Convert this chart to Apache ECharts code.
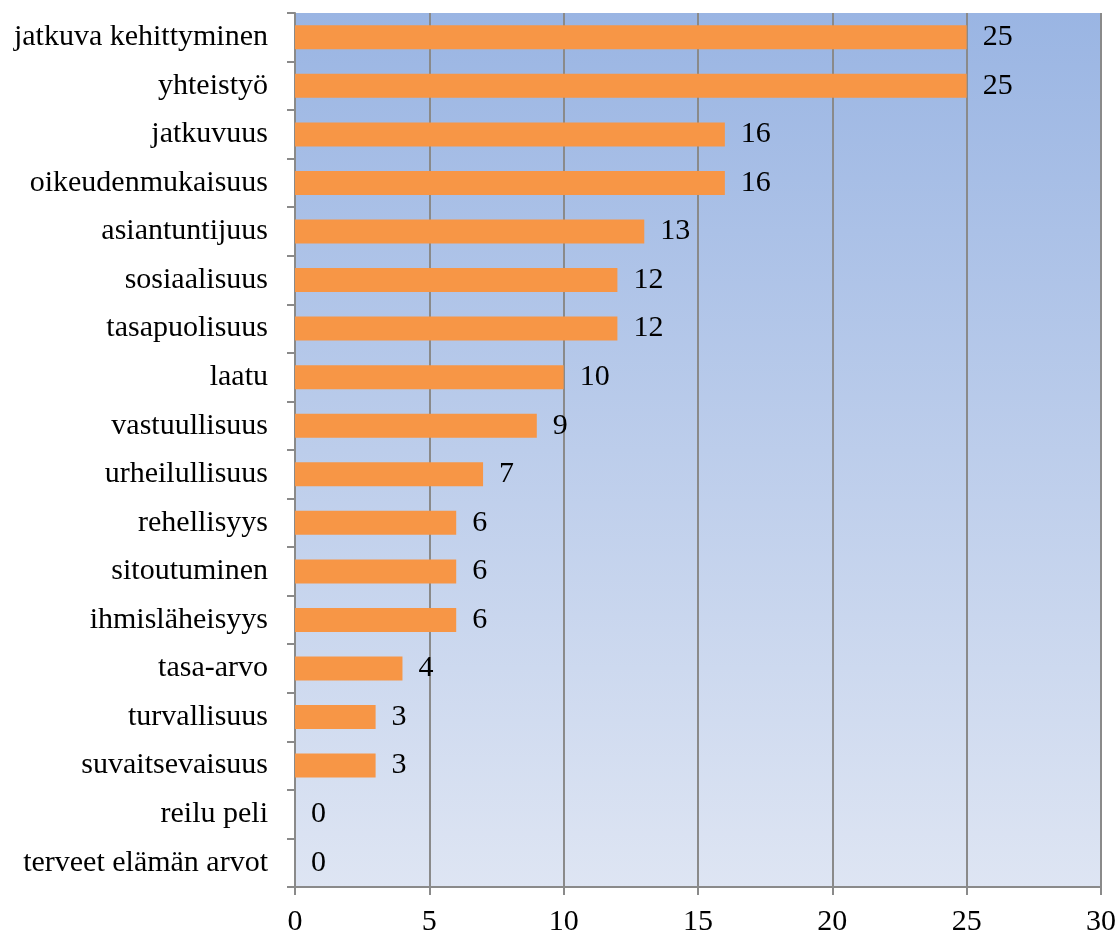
<!DOCTYPE html>
<html>
<head>
<meta charset="utf-8">
<script src="https://cdn.jsdelivr.net/npm/echarts@6/dist/echarts.min.js"></script>
<style>
html,body{margin:0;padding:0;background:#fff;}
#chart{width:1118px;height:932px;}
</style>
</head>
<body>
<div id="chart"></div>
<script>
const categories = ["jatkuva kehittyminen","yhteistyö","jatkuvuus","oikeudenmukaisuus","asiantuntijuus","sosiaalisuus","tasapuolisuus","laatu","vastuullisuus","urheilullisuus","rehellisyys","sitoutuminen","ihmisläheisyys","tasa-arvo","turvallisuus","suvaitsevaisuus","reilu peli","terveet elämän arvot"];
const values = [25,25,16,16,13,12,12,10,9,7,6,6,6,4,3,3,0,0];
const xTicks = [0,5,10,15,20,25,30];

const FONT = '"Liberation Serif", "DejaVu Serif", serif';
const chart = echarts.init(document.getElementById('chart'));
chart.setOption({
  animation: false,
  grid: {
    left: 295, right: 17, top: 13, bottom: 45,
    containLabel: false, outerBoundsMode: 'none',
    show: true, borderWidth: 0,
    backgroundColor: new echarts.graphic.LinearGradient(0, 0, 0, 1, [
      {offset: 0, color: '#9ab5e3'},
      {offset: 1, color: '#dee5f3'}
    ])
  },
  xAxis: {
    type: 'value', min: xTicks[0], max: xTicks[xTicks.length-1], interval: 5,
    axisLine: {show: true, lineStyle: {color: '#8a8a8a', width: 2}},
    axisTick: {show: true, length: 8, lineStyle: {color: '#8a8a8a', width: 2}},
    splitLine: {show: true, lineStyle: {color: '#8a8a8a', width: 2}},
    axisLabel: {fontFamily: FONT, fontSize: 30, color: '#000', margin: 20}
  },
  yAxis: {
    type: 'category', data: categories, inverse: true,
    axisLine: {show: true, lineStyle: {color: '#8a8a8a', width: 2}},
    axisTick: {show: true, length: 8, lineStyle: {color: '#8a8a8a', width: 2}},
    axisLabel: {fontFamily: FONT, fontSize: 30, color: '#000', margin: 27, padding: [4, 0, 0, 0]}
  },
  series: [{
    type: 'bar', data: values, barWidth: 24,
    itemStyle: {color: '#f79646'},
    label: {show: true, position: 'right', distance: 16, fontFamily: FONT, fontSize: 30, color: '#000', padding: [4, 0, 0, 0]}
  }]
});
</script>
</body>
</html>
